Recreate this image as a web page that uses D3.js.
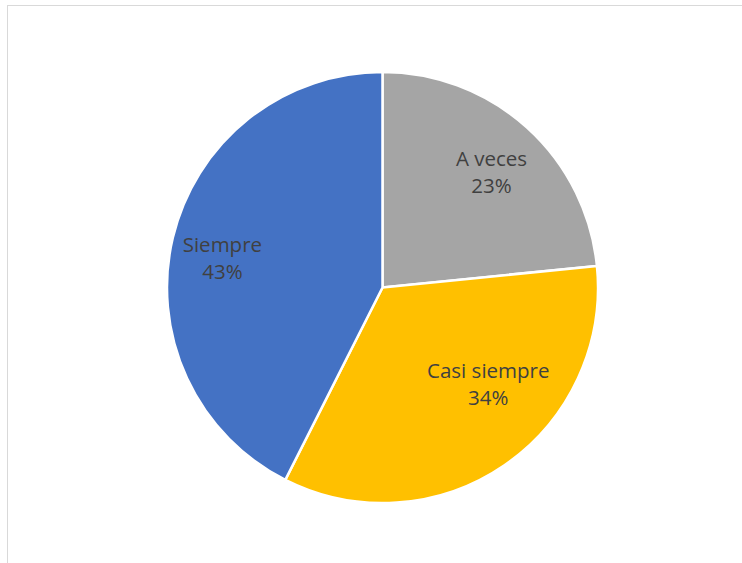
<!DOCTYPE html>
<html><head><meta charset="utf-8">
<script src="https://cdn.jsdelivr.net/npm/d3@7"></script>
<style>body{margin:0;background:#fff}svg{display:block}</style>
</head><body>
<script>
const categories = ["A veces", "Casi siempre", "Siempre"];
const values = [11, 16, 20];
const colors = ["#A5A5A5", "#FFC000", "#4472C4"];

const W = 742, H = 563;
const svg = d3.select("body").append("svg").attr("width", W).attr("height", H);
svg.append("rect").attr("x", 7.5).attr("y", 5.5).attr("width", 800).attr("height", 700)
  .attr("fill", "none").attr("stroke", "#D9D9D9").attr("stroke-width", 1);

const cx = 382.5, cy = 287.5, R = 215.5;
const g = svg.append("g").attr("transform", `translate(${cx},${cy})`);
const pie = d3.pie().sort(null).value(d => d)(values);
const arc = d3.arc().innerRadius(0).outerRadius(R);
g.selectAll("path").data(pie).enter().append("path")
  .attr("d", arc).attr("fill", (d, i) => colors[i])
  .attr("stroke", "#fff").attr("stroke-width", 2.5).attr("stroke-linejoin", "round");

const total = d3.sum(values);
const labelArc = d3.arc().innerRadius(R * 0.74).outerRadius(R * 0.74);
const nudge = [[2, 2.5], [15.5, -34.5], [-5, 7.5]];
const lg = g.selectAll("g.lab").data(pie).enter().append("g")
  .attr("transform", (d, i) => { const c = labelArc.centroid(d); return `translate(${c[0] + nudge[i][0]},${c[1] + nudge[i][1]})`; });
const font = "'Open Sans', sans-serif";
lg.append("text").attr("text-anchor", "middle").attr("y", -6)
  .attr("font-family", font).attr("font-size", 20.5).attr("fill", "#404040")
  .text((d, i) => categories[i]);
lg.append("text").attr("text-anchor", "middle").attr("y", 21)
  .attr("font-family", font).attr("font-size", 20.5).attr("fill", "#404040")
  .text(d => Math.round(d.value / total * 100) + "%");
</script>
</body></html>
